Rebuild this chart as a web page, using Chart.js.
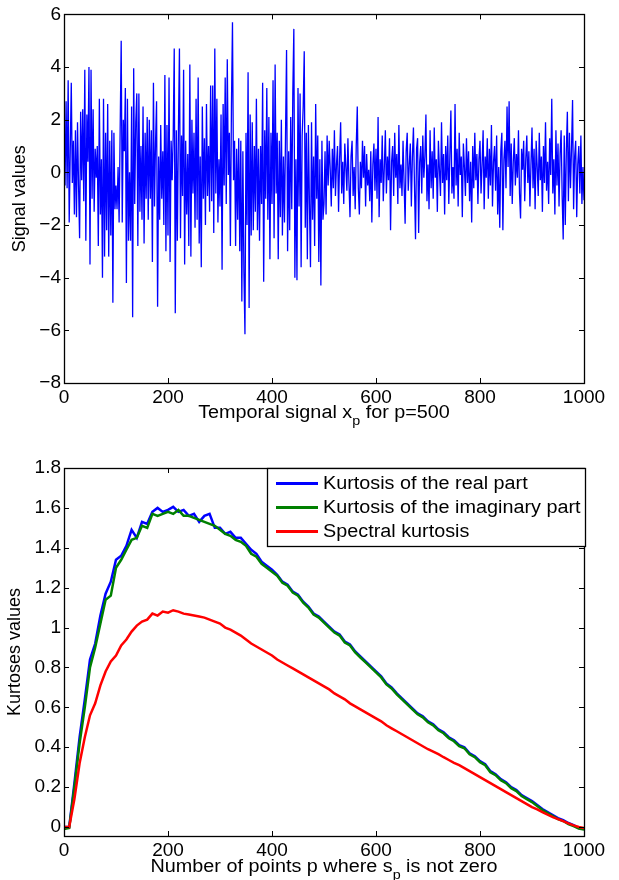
<!DOCTYPE html>
<html>
<head>
<meta charset="utf-8">
<script src="https://cdn.jsdelivr.net/npm/chart.js@4/dist/chart.umd.min.js"></script>
<style>
    body { margin: 0; background: #fff; }
    canvas { position: absolute; left: 0; }
    #signal-chart { top: 0; }
    #kurtosis-chart { top: 430px; }
</style>
</head>
<body>
<canvas id="signal-chart" width="619" height="430"></canvas>
<canvas id="kurtosis-chart" width="619" height="450"></canvas>
<script>
// Top plot: temporal signal, one value every 2 samples
const signalStep = 2;
const signalValues = [
    0.3, -0.5, 2.7, -0.6, 3.5, -1.9, 0.8, 3.4, -0.4, 1.2, -1.6, 1.6, -1.7, 1.9, -0.5, -2.5, 2.3, -0.3, 2.4, -1.1, 3.9, -2.6, 2.2, 0.4, 4.0,
    -3.5, 3.9, -1.0, 2.4, -1.5, 0.9, -0.2, 1.0, -2.8, 2.8, -1.6, 0.5, -4.0, 2.8, -3.2, 1.5, -2.2, 2.6, -3.2, 1.2, -2.4, 1.6, -4.95, 1.5, -1.4,
    -0.5, -1.4, 0.2, -1.9, 1.6, 5.0, -1.9, 2.0, 0.8, 3.2, -4.2, 2.8, -2.6, 0.0, -2.6, 2.5, -5.5, 3.95, -1.2, 1.9, 3.0, -2.8, 3.0, -1.5, 1.0,
    -1.8, 2.5, -2.7, 1.5, -1.0, 2.1, -1.8, 2.0, -1.0, 1.6, -3.4, 3.4, -1.3, 1.1, 2.7, -5.1, 0.6, -1.8, 1.8, -1.0, 0.8, -2.0, 3.7, -3.0, 1.8,
    -2.4, 3.6, -3.4, 1.2, -0.3, 1.4, 4.7, -5.35, 1.6, -2.6, 1.5, 4.7, -2.5, 1.4, -0.9, 3.9, -3.5, 1.2, -1.6, 0.7, -2.8, 4.1, -3.2, 2.0, -0.8,
    1.5, -2.1, 2.8, -1.8, 3.6, -2.7, 0.6, -3.6, 2.5, -1.0, 1.3, -2.0, 2.6, -0.9, 1.0, -1.5, 3.3, -1.1, 3.3, -2.3, 4.7, -0.8, 2.8, -1.9, 0.5,
    -1.3, 2.2, -3.7, 2.6, -0.5, 3.6, -1.2, 4.3, -0.1, 1.5, -2.8, 2.5, 5.7, -0.3, 1.2, -2.8, 0.9, -1.8, 1.3, -3.0, 1.2, -4.9, 0.8, -3.8, -6.15,
    1.5, -2.0, 3.8, -5.15, 2.2, -2.4, 1.9, -2.2, 1.0, -1.5, 2.8, -2.2, 0.9, -2.6, 1.0, -1.2, 3.4, -4.15, 1.6, -1.0, 3.2, -1.8, 2.1, -3.3, 1.5,
    -1.2, 3.5, -2.5, 4.1, -0.8, 1.5, -3.3, 1.2, -1.7, 2.0, -2.4, 0.6, -1.9, 1.4, 4.65, -3.0, 0.8, -2.2, 2.1, -1.4, 3.0, 5.45, -4.0, 0.5, -4.1,
    3.2, -1.3, 3.0, -3.6, 1.4, 2.5, 4.6, -2.1, 1.5, -3.3, 1.8, -1.2, -3.6, 1.9, -1.8, 0.6, -2.8, 2.6, -1.0, 1.4, -3.4, 0.5, -4.3, 1.2, -1.8,
    -1.2, 0.8, -1.6, 1.4, -0.5, 1.2, 0.1, -1.3, 0.9, -0.6, 1.6, -0.9, 0.3, 1.0, -1.5, 0.5, 1.9, -0.8, 0.4, -1.2, 1.1, 0.2, -0.7, 1.3, -0.4,
    -1.7, 0.6, 1.2, -0.9, 0.2, -1.4, 1.0, 2.5, -0.6, -1.6, 0.4, -0.6, 1.2, -0.2, 1.0, -1.3, 0.7, -0.5, 0.1, -1.1, 0.8, -1.9, 0.3, 1.1, -0.7,
    0.9, -1.0, 2.1, -1.7, 0.5, -0.4, 1.4, -1.1, 0.2, 1.6, -0.8, 0.6, -0.3, 1.3, -2.2, 0.4, 1.0, -0.9, 1.5, -0.2, 0.7, -1.2, 1.8, -0.6, 0.3,
    -0.9, 1.2, -0.4, -1.95, 0.8, 1.5, -0.7, 0.3, 1.1, -1.3, 0.6, 1.7, -0.5, -2.54, 0.9, 1.3, -2.3, 0.4, 1.0, -0.8, 1.4, -0.2, 0.6, 2.2, -1.1,
    0.3, -1.4, 1.6, -0.6, 0.8, -1.0, 1.7, -0.2, 0.5, -1.5, 1.2, 0.1, -0.9, 1.9, -0.4, 0.7, -1.6, 1.0, -0.3, 1.4, -1.2, 0.6, 2.35, -0.8, 0.2,
    -1.0, 2.6, -0.5, 0.9, -1.3, 1.5, -0.1, 0.6, -1.7, 1.1, 0.2, -0.9, 1.3, -0.4, 0.8, -1.1, 0.4, -1.9, 1.0, -0.6, 1.5, -0.3, 0.7, -1.2, 0.5,
    1.2, -0.8, 0.3, 1.6, -1.4, 0.6, -0.2, 1.3, -1.0, 0.9, -0.5, 1.8, -1.3, 0.4, 1.0, -0.7, 1.4, -1.6, 0.2, -2.1, 0.8, 1.5, -2.2, 0.5, 1.2,
    -0.6, 2.5, 0.2, 2.7, -0.9, 1.1, -1.2, 0.4, 1.3, -0.5, 0.7, -0.2, 1.6, -0.8, -1.75, 0.9, 0.1, 1.2, -1.1, 0.5, 1.4, -0.4, 0.8, -1.3, 0.3,
    1.7, -0.6, 0.9, -1.4, 1.2, 0.2, -0.9, 1.5, -0.3, 0.6, -1.5, 1.0, -0.4, 1.9, -0.7, 0.4, -1.2, 1.3, -0.1, 2.8, -0.8, 0.5, -1.6, 1.6, -0.5,
    1.1, -1.3, 0.7, 1.6, -0.9, -2.55, 1.4, -2.0, 0.8, 2.3, -1.1, 1.5, -0.6, 0.9, 2.75, -1.4, 0.6, 1.2, -1.7, 0.3, 1.0, -0.8, 1.4, -1.2, 0.2, -1.06
];
const signalXTicks = [0, 200, 400, 600, 800, 1000];
const signalYTicks = [-8, -6, -4, -2, 0, 2, 4, 6];

// Bottom plot: kurtoses, one value every 10 points
const kurtStep = 10;
const kurtLabels = ['Kurtosis of the real part', 'Kurtosis of the imaginary part', 'Spectral kurtosis'];
const kurtReal = [
    0.00, 0.00, 0.22, 0.45, 0.64, 0.84, 0.92, 1.06, 1.17, 1.23,
    1.34, 1.36, 1.41, 1.49, 1.45, 1.53, 1.52, 1.58, 1.60, 1.58,
    1.59, 1.605, 1.58, 1.59, 1.56, 1.57, 1.53, 1.56, 1.57, 1.50,
    1.50, 1.47, 1.48, 1.45, 1.45, 1.42, 1.39, 1.37, 1.33, 1.31,
    1.29, 1.265, 1.23, 1.215, 1.18, 1.165, 1.13, 1.105, 1.07, 1.055,
    1.03, 1.005, 0.98, 0.965, 0.93, 0.915, 0.88, 0.855, 0.83, 0.805,
    0.78, 0.755, 0.72, 0.70, 0.67, 0.645, 0.62, 0.595, 0.57, 0.555,
    0.53, 0.515, 0.49, 0.475, 0.45, 0.435, 0.41, 0.40, 0.37, 0.355,
    0.33, 0.315, 0.28, 0.265, 0.24, 0.225, 0.20, 0.185, 0.16, 0.145,
    0.13, 0.11, 0.09, 0.075, 0.06, 0.045, 0.035, 0.02, 0.01, -0.005, -0.01
];
const kurtImag = [
    -0.01, -0.005, 0.20, 0.42, 0.60, 0.80, 0.90, 1.02, 1.14, 1.16,
    1.30, 1.34, 1.39, 1.44, 1.45, 1.51, 1.50, 1.57, 1.56, 1.57,
    1.58, 1.57, 1.59, 1.56, 1.56, 1.55, 1.54, 1.53, 1.52, 1.51,
    1.49, 1.47, 1.46, 1.44, 1.43, 1.41, 1.37, 1.355, 1.32, 1.30,
    1.28, 1.26, 1.225, 1.21, 1.175, 1.16, 1.125, 1.10, 1.065, 1.05,
    1.025, 1.00, 0.975, 0.96, 0.925, 0.91, 0.875, 0.85, 0.825, 0.80,
    0.775, 0.75, 0.715, 0.695, 0.665, 0.64, 0.615, 0.59, 0.565, 0.55,
    0.525, 0.51, 0.485, 0.47, 0.445, 0.43, 0.405, 0.395, 0.365, 0.35,
    0.325, 0.31, 0.275, 0.26, 0.235, 0.22, 0.195, 0.18, 0.155, 0.14,
    0.125, 0.105, 0.085, 0.07, 0.055, 0.04, 0.03, 0.015, 0.005, -0.008, -0.012
];
const kurtSpectral = [
    0.0, 0.0, 0.14, 0.32, 0.45, 0.56, 0.62, 0.71, 0.78, 0.83,
    0.86, 0.91, 0.94, 0.98, 1.01, 1.03, 1.04, 1.07, 1.06, 1.08,
    1.075, 1.087, 1.08, 1.07, 1.065, 1.06, 1.055, 1.05, 1.04, 1.03,
    1.02, 1.00, 0.99, 0.975, 0.96, 0.94, 0.92, 0.905, 0.89, 0.875,
    0.86, 0.84, 0.825, 0.81, 0.795, 0.78, 0.765, 0.75, 0.735, 0.72,
    0.705, 0.69, 0.67, 0.655, 0.64, 0.62, 0.605, 0.59, 0.575, 0.56,
    0.545, 0.53, 0.51, 0.495, 0.48, 0.465, 0.45, 0.435, 0.42, 0.405,
    0.39, 0.378, 0.365, 0.35, 0.336, 0.322, 0.31, 0.295, 0.28, 0.265,
    0.25, 0.235, 0.22, 0.205, 0.19, 0.175, 0.16, 0.145, 0.13, 0.115,
    0.10, 0.088, 0.075, 0.062, 0.05, 0.04, 0.03, 0.018, 0.008, 0.0, -0.005
];
const kurtXTicks = [0, 200, 400, 600, 800, 1000];
const kurtYTicks = [0, 0.2, 0.4, 0.6, 0.8, 1, 1.2, 1.4, 1.6, 1.8];

const FONT = '"Liberation Sans", Arial, Helvetica, sans-serif';
const STRETCH = 1.1; // the figure text is a bit wider than tall

function toPoints(values, step) {
    return values.map((v, i) => ({ x: i * step, y: v }));
}

function fmtTick(v) {
    const s = String(Number(v.toFixed(2)));
    return s.replace('-', '\u2212');
}

function wideText(ctx, text, x, y) {
    ctx.save();
    ctx.translate(x, y);
    ctx.scale(STRETCH, 1);
    ctx.fillText(text, 0, 0);
    ctx.restore();
    return ctx.measureText(text).width * STRETCH;
}

// MATLAB style box with inward ticks on all four sides
const boxPlugin = {
    id: 'box',
    afterDatasetsDraw(chart) {
        const { ctx, chartArea: a, scales } = chart;
        ctx.save();
        ctx.strokeStyle = '#000';
        ctx.lineWidth = 1;
        ctx.beginPath();
        scales.x.ticks.forEach(t => {
            const px = Math.round(scales.x.getPixelForValue(t.value)) + 0.5;
            ctx.moveTo(px, a.bottom); ctx.lineTo(px, a.bottom - 5);
            ctx.moveTo(px, a.top); ctx.lineTo(px, a.top + 5);
        });
        scales.y.ticks.forEach(t => {
            const py = Math.round(scales.y.getPixelForValue(t.value)) + 0.5;
            ctx.moveTo(a.left, py); ctx.lineTo(a.left + 5, py);
            ctx.moveTo(a.right, py); ctx.lineTo(a.right - 5, py);
        });
        ctx.stroke();
        ctx.lineWidth = 1.3;
        ctx.strokeRect(Math.round(a.left) + 0.5, Math.round(a.top) + 0.5,
            Math.round(a.right - a.left), Math.round(a.bottom - a.top));
        ctx.restore();
    }
};

// axis titles; x title pieces may carry a subscript
const titlePlugin = {
    id: 'titles',
    afterDraw(chart, args, opts) {
        const { ctx, chartArea: a } = chart;
        const mainFont = '18px ' + FONT;
        const subFont = '13px ' + FONT;
        ctx.save();
        ctx.fillStyle = '#000';
        ctx.textBaseline = 'alphabetic';
        let total = 0;
        opts.x.forEach(p => {
            ctx.font = p.sub ? subFont : mainFont;
            total += ctx.measureText(p.text).width * STRETCH;
        });
        let x = (a.left + a.right) / 2 - total / 2;
        opts.x.forEach(p => {
            ctx.font = p.sub ? subFont : mainFont;
            x += wideText(ctx, p.text, x, opts.xBaseline + (p.sub ? 7 : 0));
        });
        ctx.font = mainFont;
        ctx.translate(opts.yX, (a.top + a.bottom) / 2);
        ctx.rotate(-Math.PI / 2);
        ctx.textAlign = 'center';
        ctx.textBaseline = 'middle';
        ctx.fillText(opts.y, 0, 0);
        ctx.restore();
    }
};

// legend box drawn inside the upper right corner of the plot
const insideLegendPlugin = {
    id: 'insideLegend',
    afterDraw(chart, args, opts) {
        if (!opts.show) return;
        const { ctx, chartArea: a } = chart;
        const left = 267, top = a.top, right = a.right + 1, bottom = a.top + 78;
        ctx.save();
        ctx.fillStyle = '#fff';
        ctx.fillRect(left, top, right - left, bottom - top);
        ctx.strokeStyle = '#000';
        ctx.lineWidth = 1.3;
        ctx.strokeRect(left + 0.5, top + 0.5, right - left, bottom - top);
        ctx.font = '18px ' + FONT;
        ctx.textBaseline = 'middle';
        chart.data.datasets.forEach((ds, i) => {
            const y = top + 15.5 + i * 24;
            ctx.strokeStyle = ds.borderColor;
            ctx.lineWidth = 3;
            ctx.beginPath();
            ctx.moveTo(276, y); ctx.lineTo(318, y);
            ctx.stroke();
            ctx.fillStyle = '#000';
            wideText(ctx, ds.label, 323, y + 1);
        });
        ctx.restore();
    }
};

function axisOptions(min, max, tickValues, fitSize, isX) {
    return {
        type: 'linear',
        min: min,
        max: max,
        grid: { display: false, drawTicks: false },
        border: { display: false },
        afterBuildTicks: scale => { scale.ticks = tickValues.map(v => ({ value: v })); },
        afterFit: scale => {
            if (isX) scale.height = fitSize; else scale.width = fitSize;
        },
        ticks: {
            color: '#000',
            font: { family: FONT, size: 19 },
            padding: 3,
            autoSkip: false,
            maxRotation: 0,
            callback: v => fmtTick(v)
        }
    };
}

new Chart(document.getElementById('signal-chart'), {
    type: 'line',
    data: {
        datasets: [{
            label: 'Signal',
            data: toPoints(signalValues, signalStep),
            borderColor: '#0000ff',
            borderWidth: 1.3,
            pointRadius: 0,
            tension: 0,
            fill: false
        }]
    },
    options: {
        responsive: false,
        animation: false,
        devicePixelRatio: 1,
        layout: { padding: { top: 14, right: 35, left: 0, bottom: 0 } },
        plugins: {
            legend: { display: false },
            tooltip: { enabled: false },
            titles: {
                x: [{ text: 'Temporal signal x' }, { text: 'p', sub: true }, { text: ' for p=500' }],
                xBaseline: 418,
                y: 'Signal values',
                yX: 20
            },
            insideLegend: { show: false }
        },
        scales: {
            x: axisOptions(0, 1000, signalXTicks, 47, true),
            y: axisOptions(-8, 6, signalYTicks, 64, false)
        }
    },
    plugins: [boxPlugin, titlePlugin, insideLegendPlugin]
});

const kurtColors = ['#0000ff', '#008000', '#ff0000'];
const kurtSeries = [kurtReal, kurtImag, kurtSpectral];

new Chart(document.getElementById('kurtosis-chart'), {
    type: 'line',
    data: {
        datasets: kurtSeries.map((vals, i) => ({
            label: kurtLabels[i],
            data: toPoints(vals, kurtStep),
            borderColor: kurtColors[i],
            borderWidth: 2.5,
            pointRadius: 0,
            tension: 0,
            fill: false,
            // later curves are painted over earlier ones, as in the original
            order: kurtSeries.length - i
        }))
    },
    options: {
        responsive: false,
        animation: false,
        devicePixelRatio: 1,
        layout: { padding: { top: 38, right: 35, left: 0, bottom: 0 } },
        plugins: {
            legend: { display: false },
            tooltip: { enabled: false },
            titles: {
                x: [{ text: 'Number of points p where s' }, { text: 'p', sub: true }, { text: ' is not zero' }],
                xBaseline: 442,
                y: 'Kurtoses values',
                yX: 15
            },
            insideLegend: { show: true }
        },
        scales: {
            x: axisOptions(0, 1000, kurtXTicks, 44, true),
            y: axisOptions(-0.045, 1.8, kurtYTicks, 64, false)
        }
    },
    plugins: [boxPlugin, titlePlugin, insideLegendPlugin]
});
</script>
</body>
</html>
